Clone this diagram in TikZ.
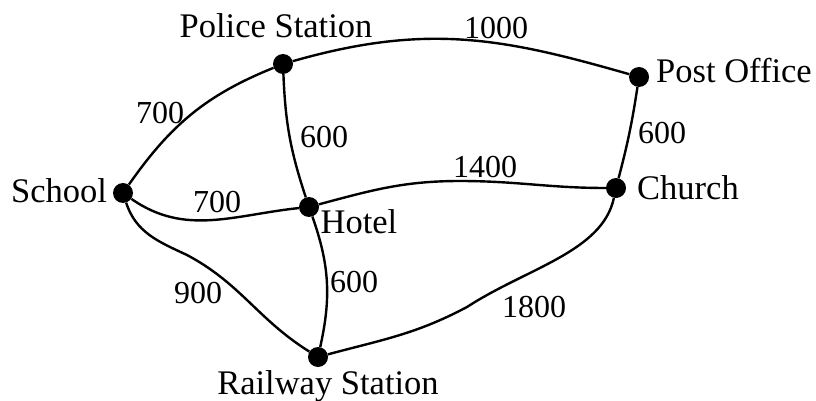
\documentclass[tikz,border=0pt]{standalone}
\usepackage{fontspec}
\setmainfont{Liberation Serif}
\begin{document}
\begin{tikzpicture}[x=1pt,y=1pt,
  place/.style={circle,fill=black,inner sep=0pt,minimum size=20pt},
  road/.style={line width=2.4pt,black},
  lbl/.style={anchor=base,inner sep=0pt,font=\fontsize{34.5}{38}\selectfont},
  dist/.style={anchor=base,inner sep=0pt,font=\fontsize{32}{36}\selectfont}]
\useasboundingbox (0,0) rectangle (816,-401);

% places
\node[place] (police) at (283,-64) {};
\node[place] (post)   at (639,-77) {};
\node[place] (school) at (123,-193) {};
\node[place] (hotel)  at (309,-207) {};
\node[place] (church) at (616,-188) {};
\node[place] (rail)   at (318,-357) {};

% bend points of the longer roads
\coordinate (hcMid) at (460,-181);
\coordinate (srMid) at (187,-255);
\coordinate (rcMid) at (467,-307);

% roads
\draw[road] (school) to[out=55,in=202] (police);
\draw[road] (police) to[out=16,in=164,out distance=140pt,in distance=130pt] (post);
\draw[road] (police) to[bend right=8] (hotel);
\draw[road] (post) to[bend left=3] (church);
\draw[road] (school) to[out=-35,in=186] (hotel);
\draw[road] (hotel) to[out=15,in=180] (hcMid) to[out=0,in=180] (church);
\draw[road] (hotel) to[bend left=16] (rail);
\draw[road] (school) to[out=-72,in=155] (srMid) to[out=-28,in=148] (rail);
\draw[road] (rail) to[out=15,in=208] (rcMid) to[out=33,in=-102,in distance=55pt] (church);

% place names
\node[lbl] (nPolice) at (276,-38) {Police Station};
\node[lbl] (nPost)   at (734,-83) {Post Office};
\node[lbl] (nSchool) at (59,-202) {School};
\node[lbl] (nHotel)  at (359,-233) {Hotel};
\node[lbl] (nChurch) at (688,-199) {Church};
\node[lbl] (nRail)   at (328,-394) {Railway Station};

% distances
\node[dist] (dPP) at (496,-39)  {1000};
\node[dist] (dSP) at (160,-124) {700};
\node[dist] (dPH) at (324,-147) {600};
\node[dist] (dPC) at (662,-143) {600};
\node[dist] (dHC) at (485,-177) {1400};
\node[dist] (dSH) at (217,-212) {700};
\node[dist] (dSR) at (198,-303) {900};
\node[dist] (dHR) at (354,-292) {600};
\node[dist] (dRC) at (534,-317) {1800};
\end{tikzpicture}
\end{document}
